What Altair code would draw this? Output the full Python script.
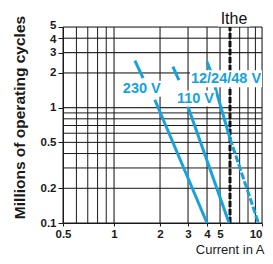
import altair as alt
import pandas as pd

# ---- data ----
x_grid = [0.5, 0.6, 0.7, 0.8, 0.9, 1, 2, 3, 4, 5, 6, 7, 8, 9, 10]
y_grid = [0.1, 0.2, 0.3, 0.4, 0.5, 0.6, 0.7, 0.8, 0.9, 1, 2, 3, 4, 5]
x_ticks = [0.5, 1, 2, 3, 4, 5, 10]
y_ticks = [0.1, 0.2, 0.5, 1, 2, 3, 4, 5]

# the printed x axis is not a perfectly uniform log axis: knots
x_knots = [0.5, 1, 2, 3, 4, 5, 6, 10]
x_knot_px = [0, 51, 97, 125, 144, 157, 167, 199]

# solid curve segments (broken where the labels sit)
seg_name = ["230a", "230a", "230b", "230b",
            "110a", "110a", "110b", "110b",
            "12a", "12a", "12b", "12b"]
seg_x = [1.37, 1.55, 1.85, 4.0,
         2.41, 2.63, 3.0, 5.9,
         4.0, 4.29, 4.59, 6.0]
seg_y = [2.55, 1.80, 1.17, 0.1,
         2.27, 1.73, 1.02, 0.1,
         2.50, 2.02, 1.51, 0.54]

# dashed continuation beyond Ithe
dash_x = [6.0, 9.45]
dash_y = [0.54, 0.1]

label_text = ["230 V", "110 V", "12/24/48 V"]
label_x = [1.52, 3.36, 5.58]
label_y = [1.46, 1.20, 1.78]

ithe_x = [6]
ithe_y0 = [0.1]
ithe_y1 = [5]

BLUE = "#17a2dc"
INK = "#1a1a1a"
FONT = "Liberation Sans"
W, H = 199, 196

xs = alt.Scale(type="log", domain=x_knots, range=x_knot_px, nice=False)
ys = alt.Scale(type="log", domain=[0.1, 5], nice=False)

xax = alt.Axis(values=x_ticks, format=".1~f", title="Current in A",
               tickSize=3, tickColor=INK, labelPadding=2, domainColor=INK,
               labelFont=FONT, labelFontSize=11.5, labelFontWeight="bold",
               labelColor=INK, labelOverlap=False, labelFlush=False,
               labelAlign={"condition": {"test": "datum.value >= 10", "value": "right"},
                           "value": "center"},
               titleFont=FONT, titleFontSize=13, titleFontWeight="normal",
               titleColor=INK, titleAlign="right", titleAnchor="end",
               titleX=201, titleY=30, titleBaseline="alphabetic")
yax = alt.Axis(values=y_ticks, format=".1~f", title="Millions of operating cycles",
               tickSize=5, tickColor=INK, labelPadding=2, domainColor=INK,
               labelFont=FONT, labelFontSize=11.5, labelFontWeight="bold",
               labelColor=INK, labelOverlap=False, labelFlush=False,
               labelOffset={"condition": [{"test": "datum.value == 5", "value": -1.5},
                                          {"test": "datum.value == 4", "value": 1}],
                            "value": 0},
               titleFont=FONT, titleFontSize=15.5, titleFontWeight="bold",
               titleColor=INK, titleAngle=-90, titleAlign="center",
               titleBaseline="alphabetic", titleX=-39, titleY=90)


def X(f="x"):
    return alt.X(f"{f}:Q", scale=xs, axis=xax, title="Current in A")


def Y(f="y"):
    return alt.Y(f"{f}:Q", scale=ys, axis=yax, title="Millions of operating cycles")


seg_df = pd.DataFrame({"seg": seg_name, "x": seg_x, "y": seg_y})
dash_df = pd.DataFrame({"x": dash_x, "y": dash_y})
lab_df = pd.DataFrame({"t": label_text, "x": label_x, "y": label_y})
xg_df = pd.DataFrame({"x": x_grid})
yg_df = pd.DataFrame({"y": y_grid})
ithe_df = pd.DataFrame({"x": ithe_x, "y": ithe_y0, "y2": ithe_y1, "t": ["Ithe"]})

vgrid = alt.Chart(xg_df).mark_rule(color=INK, strokeWidth=1).encode(x=X())
hgrid = alt.Chart(yg_df).mark_rule(color=INK, strokeWidth=1).encode(y=Y())

ithe_line = alt.Chart(ithe_df).mark_rule(color="#111111", strokeWidth=3,
                                         strokeDash=[6, 2]).encode(
    x=X(), y=Y(), y2="y2:Q")

lines = alt.Chart(seg_df).mark_line(color=BLUE, strokeWidth=3).encode(
    x=X(), y=Y(), detail="seg:N")
dashed = alt.Chart(dash_df).mark_line(color=BLUE, strokeWidth=3,
                                      strokeDash=[7, 2]).encode(x=X(), y=Y())


def box(w, h):
    r = h / w
    return f"M-1,{-r:.4f}H1V{r:.4f}H-1Z"


box_sizes = {"230 V": (40, 16), "110 V": (40, 16), "12/24/48 V": (72, 17)}
boxes = []
for t, (w, h) in box_sizes.items():
    boxes.append(
        alt.Chart(lab_df).transform_filter(alt.datum.t == t)
        .mark_point(shape=box(w, h), size=w * w, filled=True, fill="white",
                    opacity=1, strokeWidth=0)
        .encode(x=X(), y=Y())
    )

labels = alt.Chart(lab_df).mark_text(font=FONT, fontSize=14.5, fontWeight="bold",
                                     color=BLUE, align="center",
                                     baseline="middle").encode(
    x=X(), y=Y(), text="t:N")

ithe_box = alt.Chart(ithe_df).mark_point(shape=box(32, 15), size=32 * 32,
                                         filled=True, fill="white", opacity=1,
                                         strokeWidth=0).encode(
    x=X(), y=Y("y2"), xOffset=alt.value(4), yOffset=alt.value(-8))
ithe_text = alt.Chart(ithe_df).mark_text(font=FONT, fontSize=16, color="#111111",
                                         align="center", baseline="alphabetic",
                                         dx=4, dy=-3).encode(
    x=X(), y=Y("y2"), text="t:N")

chart = alt.layer(vgrid, hgrid, ithe_line, lines, dashed, *boxes, labels,
                  ithe_box, ithe_text).properties(
    width=W, height=H,
    autosize=alt.AutoSizeParams(type="none"),
    padding={"left": 55, "top": 19, "right": 3, "bottom": 248 - 19 - H},
    background="white",
).configure_view(stroke=None)

chart.save("out.html", embed_options={"renderer": "svg", "actions": False})
